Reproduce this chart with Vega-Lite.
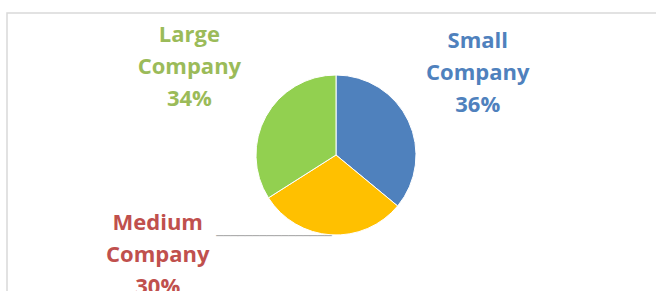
{
  "$schema": "https://vega.github.io/schema/vega-lite/v6.json",
  "width": 658,
  "height": 284,
  "autosize": {"type": "none"},
  "padding": {"left": 7, "top": 13, "right": 0, "bottom": 0},
  "background": "#ffffff",
  "view": {"stroke": "#d9d9d9", "strokeWidth": 1.5},
  "data": {
    "values": [
      {"company": "Small Company", "share": 36, "rank": 1, "label": "Small\nCompany\n36%"},
      {"company": "Medium Company", "share": 30, "rank": 2, "label": "Medium\nCompany\n30%"},
      {"company": "Large Company", "share": 34, "rank": 3, "label": "Large\nCompany\n34%"}
    ]
  },
  "encoding": {
    "theta": {"field": "share", "type": "quantitative", "stack": true},
    "order": {"field": "rank", "type": "quantitative"}
  },
  "layer": [
    {
      "mark": {"type": "arc", "outerRadius": 80, "stroke": "#ffffff", "strokeWidth": 1},
      "encoding": {
        "color": {
          "field": "company",
          "type": "nominal",
          "scale": {"domain": ["Small Company", "Medium Company", "Large Company"], "range": ["#4F81BD", "#FFC000", "#92D050"]},
          "legend": null
        }
      }
    },
    {
      "mark": {"type": "text", "radius": 80, "dx": -57, "dy": 1, "font": "DejaVu Sans Mono", "fontSize": 12, "align": "center", "baseline": "middle", "color": "#A6A6A6"},
      "encoding": {"text": {"condition": {"test": "datum.company === 'Medium Company'", "value": "────────────────"}, "value": ""}}
    },
    {
      "mark": {"type": "text", "radius": 160, "dx": -3, "dy": -46, "font": "Open Sans", "fontWeight": "bold", "fontSize": 22, "lineBreak": "\n", "lineHeight": 32, "align": "center", "baseline": "middle", "color": "#4F81BD"},
      "encoding": {"text": {"condition": {"test": "datum.company === 'Small Company'", "field": "label"}, "value": ""}}
    },
    {
      "mark": {"type": "text", "radius": 165, "dx": -2, "dy": -41, "font": "Open Sans", "fontWeight": "bold", "fontSize": 22, "lineBreak": "\n", "lineHeight": 32, "align": "center", "baseline": "middle", "color": "#9BBB59"},
      "encoding": {"text": {"condition": {"test": "datum.company === 'Large Company'", "field": "label"}, "value": ""}}
    },
    {
      "mark": {"type": "text", "radius": 100, "dx": -172, "dy": -32, "font": "Open Sans", "fontWeight": "bold", "fontSize": 22, "lineBreak": "\n", "lineHeight": 32, "align": "center", "baseline": "middle", "color": "#C0504D"},
      "encoding": {"text": {"condition": {"test": "datum.company === 'Medium Company'", "field": "label"}, "value": ""}}
    }
  ]
}
